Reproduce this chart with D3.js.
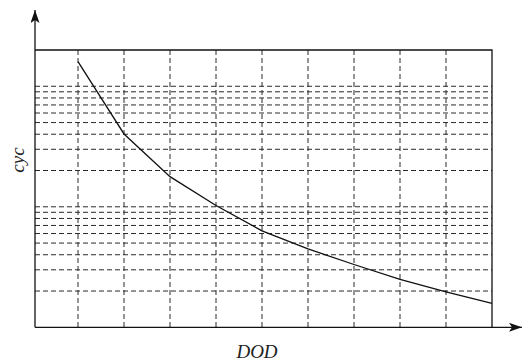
<!DOCTYPE html>
<html>
<head>
<meta charset="utf-8">
<script src="https://cdn.jsdelivr.net/npm/d3@7"></script>
<style>
  html, body { margin: 0; padding: 0; background: #fff; }
  svg { display: block; }
  .label { font-family: "Liberation Serif", "Times New Roman", serif; font-style: italic; font-size: 19px; fill: #222; }
</style>
</head>
<body>
<svg id="chart" width="523" height="364"></svg>
<script>
// depth of discharge vs cycle life
const dod = [0.1, 0.2, 0.3, 0.4, 0.5, 0.6, 0.7, 0.8, 0.9, 1.0];
const cycles = [16000, 4020, 1780, 1025, 632, 447, 332, 250, 197, 158];

const xGrid = [0.1, 0.2, 0.3, 0.4, 0.5, 0.6, 0.7, 0.8, 0.9];
const yGrid = [200, 300, 400, 500, 600, 700, 800, 900, 1000,
               2000, 3000, 4000, 5000, 6000, 7000, 8000, 9000, 10000];

const xLabel = 'DOD';
const yLabel = 'cyc';

const plot = {left: 35, right: 492, top: 50, bottom: 327.3};

const svg = d3.select('#chart');

const x = d3.scaleLinear()
    .domain([0.1, 1.0])
    .range([78, plot.right]);

const y = d3.scaleLog()
    .domain([100, 20000])
    .range([plot.bottom, plot.top]);

const ink = '#111';

// grid
const grid = svg.append('g')
    .attr('stroke', '#2a2a2a')
    .attr('stroke-width', 1)
    .attr('stroke-dasharray', '5,3');

grid.selectAll('.h')
  .data(yGrid)
  .enter().append('line')
    .attr('class', 'h')
    .attr('x1', plot.left)
    .attr('x2', plot.right)
    .attr('y1', d => y(d))
    .attr('y2', d => y(d));

grid.selectAll('.v')
  .data(xGrid)
  .enter().append('line')
    .attr('class', 'v')
    .attr('x1', d => x(d))
    .attr('x2', d => x(d))
    .attr('y1', plot.top)
    .attr('y2', plot.bottom);

// box top and right
svg.append('path')
    .attr('d', `M${plot.left},${plot.top}H${plot.right}V${plot.bottom}`)
    .attr('fill', 'none')
    .attr('stroke', ink)
    .attr('stroke-width', 1.3);

// arrows
const defs = svg.append('defs');
defs.append('marker')
    .attr('id', 'arrow')
    .attr('viewBox', '0 0 13 9')
    .attr('refX', 13)
    .attr('refY', 4.5)
    .attr('markerWidth', 13)
    .attr('markerHeight', 9)
    .attr('markerUnits', 'userSpaceOnUse')
    .attr('orient', 'auto')
  .append('path')
    .attr('d', 'M0,0L13,4.5L0,9L3,4.5Z')
    .attr('fill', ink);

svg.append('line')
    .attr('x1', plot.left).attr('y1', plot.bottom)
    .attr('x2', plot.left).attr('y2', 10)
    .attr('stroke', ink)
    .attr('stroke-width', 1.3)
    .attr('marker-end', 'url(#arrow)');

svg.append('line')
    .attr('x1', plot.left).attr('y1', plot.bottom)
    .attr('x2', 522).attr('y2', plot.bottom)
    .attr('stroke', ink)
    .attr('stroke-width', 1.3)
    .attr('marker-end', 'url(#arrow)');

// curve
const line = d3.line()
    .x((d, i) => x(dod[i]))
    .y(d => y(d));

svg.append('path')
    .datum(cycles)
    .attr('d', line)
    .attr('fill', 'none')
    .attr('stroke', ink)
    .attr('stroke-width', 1.3);

// labels
svg.append('text')
    .attr('class', 'label')
    .attr('x', 257)
    .attr('y', 358)
    .attr('text-anchor', 'middle')
    .text(xLabel);

svg.append('text')
    .attr('class', 'label')
    .attr('transform', 'translate(24,160) rotate(-90)')
    .attr('text-anchor', 'middle')
    .text(yLabel);
</script>
</body>
</html>
